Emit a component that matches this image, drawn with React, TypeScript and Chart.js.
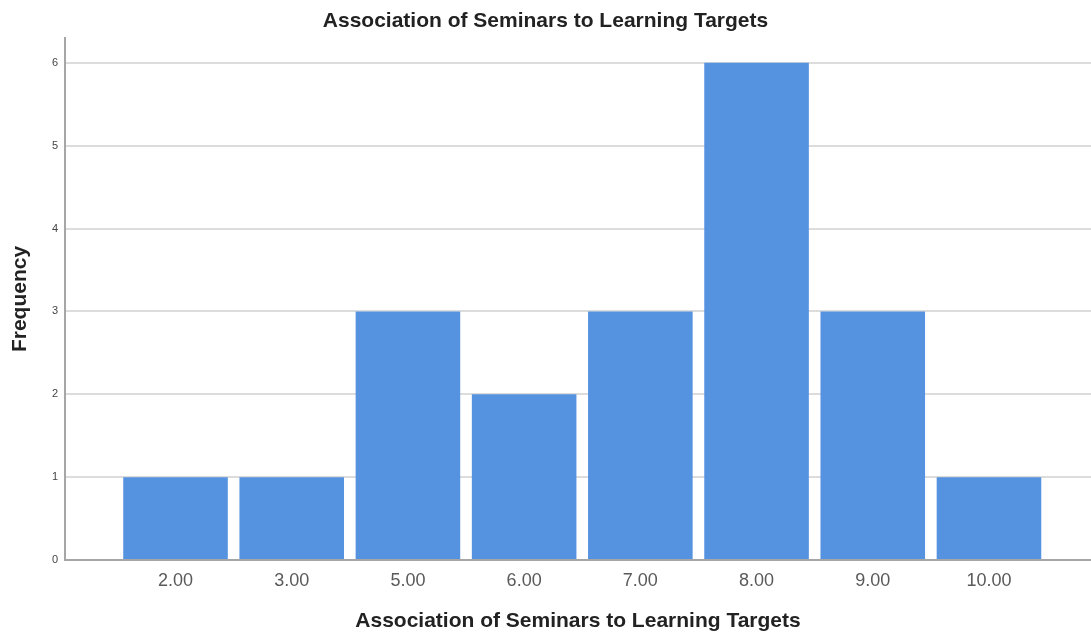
import React, { useEffect, useRef } from "react";
import { Chart, registerables } from "chart.js";

Chart.register(...registerables);

const categories = ["2.00", "3.00", "5.00", "6.00", "7.00", "8.00", "9.00", "10.00"];
const frequencies = [1, 1, 3, 2, 3, 6, 3, 1];
const yTicks = [0, 1, 2, 3, 4, 5, 6];

const chartTitle = "Association of Seminars to Learning Targets";
const xTitle = "Association of Seminars to Learning Targets";
const yTitle = "Frequency";

export default function App() {
  const ref = useRef<HTMLCanvasElement | null>(null);

  useEffect(() => {
    document.body.style.margin = "0";
    const ctx = ref.current!.getContext("2d")!;
    const positions = categories.map((_, i) => i + 1);
    const chart = new Chart(ctx, {
      type: "bar",
      data: {
        datasets: [
          {
            label: yTitle,
            data: frequencies.map((v, i) => ({ x: positions[i], y: v })),
            backgroundColor: "#5592E0",
            borderWidth: 0,
            barPercentage: 0.9,
            categoryPercentage: 1,
          },
        ],
      },
      options: {
        animation: false,
        responsive: false,
        maintainAspectRatio: false,
        layout: { padding: 0 },
        plugins: {
          legend: { display: false },
          tooltip: { enabled: false },
          title: {
            display: true,
            text: chartTitle,
            color: "#222222",
            font: { family: "'Liberation Sans', Arial, sans-serif", size: 21, weight: "bold" },
            padding: { top: 9, bottom: 3.8 },
          },
        },
        scales: {
          x: {
            type: "linear",
            min: 0.049,
            max: 8.878,
            offset: false,
            grid: { display: false, drawTicks: false },
            border: { display: true, color: "#a6a6a6", width: 2 },
            afterBuildTicks: (scale: any) => {
              scale.ticks = positions.map((v) => ({ value: v }));
            },
            afterFit: (scale: any) => {
              scale.height = 74;
            },
            ticks: {
              autoSkip: false,
              maxRotation: 0,
              padding: 10,
              color: "#5a5a5a",
              font: { family: "'Liberation Sans', Arial, sans-serif", size: 18 },
              callback: (value: any) => {
                const idx = Math.round(Number(value)) - 1;
                return categories[idx] ?? "";
              },
            },
            title: {
              display: true,
              text: xTitle,
              color: "#222222",
              font: { family: "'Liberation Sans', Arial, sans-serif", size: 21, weight: "bold" },
              padding: { top: 0, bottom: 0 },
            },
          },
          y: {
            type: "linear",
            min: 0,
            max: 6.3,
            grid: { display: true, color: "#dcdcdc", lineWidth: 2, drawTicks: false },
            border: { display: true, color: "#a6a6a6", width: 2 },
            afterBuildTicks: (scale: any) => {
              scale.ticks = yTicks.map((v) => ({ value: v }));
            },
            afterFit: (scale: any) => {
              scale.width = 65;
            },
            ticks: {
              padding: 7,
              color: "#444444",
              font: { family: "'Liberation Sans', Arial, sans-serif", size: 11 },
            },
            title: {
              display: true,
              text: yTitle,
              color: "#222222",
              font: { family: "'Liberation Sans', Arial, sans-serif", size: 21, weight: "bold" },
              padding: { top: 8, bottom: 0 },
            },
          },
        },
      },
    });
    return () => chart.destroy();
  }, []);

  return (
    <div style={{ position: "absolute", left: 0, top: 0, width: 1091, height: 634, background: "#fff" }}>
      <canvas ref={ref} width={1091} height={634} style={{ display: "block" }} />
    </div>
  );
}
